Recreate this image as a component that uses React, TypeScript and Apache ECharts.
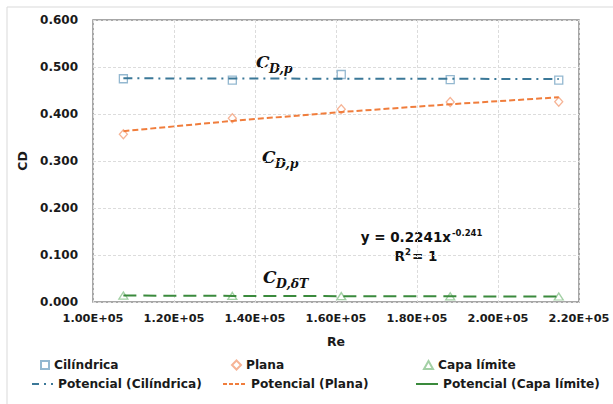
import React, { useEffect, useRef } from "react";
import * as echarts from "echarts";

const reynolds = [107500, 134400, 161300, 188200, 215000];
const cilindrica = [0.475, 0.472, 0.484, 0.473, 0.472];
const plana = [0.357, 0.391, 0.41, 0.4255, 0.426];
const capaLimite = [0.0137, 0.013, 0.0125, 0.012, 0.0116];

const seriesNames = ["Cilíndrica", "Plana", "Capa límite"];
const trendNames = ["Potencial (Cilíndrica)", "Potencial (Plana)", "Potencial (Capa límite)"];
const equationText = "y = 0.2241x";
const equationExp = "-0.241";

// least-squares power fit y = a x^b (Excel "Potencial" trendline)
function powerFit(xs: number[], ys: number[]) {
  const lx = xs.map(Math.log);
  const ly = ys.map(Math.log);
  const n = xs.length;
  const mx = lx.reduce((s, v) => s + v, 0) / n;
  const my = ly.reduce((s, v) => s + v, 0) / n;
  let num = 0;
  let den = 0;
  for (let i = 0; i < n; i++) {
    num += (lx[i] - mx) * (ly[i] - my);
    den += (lx[i] - mx) * (lx[i] - mx);
  }
  const b = num / den;
  const a = Math.exp(my - b * mx);
  return xs.map((x) => [x, a * Math.pow(x, b)]);
}

const FONT = "'DejaVu Sans', sans-serif";
const MATH = "'DejaVu Serif', serif";

function sci(v: number) {
  if (v === 0) return "0.00E+00";
  const e = Math.floor(Math.log10(Math.abs(v)) + 1e-9);
  const m = v / Math.pow(10, e);
  const es = (e < 0 ? "-" : "+") + String(Math.abs(e)).padStart(2, "0");
  return m.toFixed(2) + "E" + es;
}

export default function App() {
  const ref = useRef<HTMLDivElement>(null);
  useEffect(() => {
    if (!ref.current) return;
    const chart = echarts.init(ref.current, null, { renderer: "svg" });
    const blue = "#3b7898";
    const blueM = "#79a6c4";
    const orange = "#f07d3c";
    const orangeM = "#f4a07a";
    const green = "#3a8a3c";
    const greenM = "#8cc48e";
    const legendText = { fontFamily: FONT, fontWeight: "bold", fontSize: 12.2, color: "#1a1a1a" };
    const mkLegend = (name: string, left: number, top: number, w: number, h: number, extra: any = {}) => ({
      data: [name],
      left,
      top,
      padding: 0,
      itemWidth: w,
      itemHeight: h,
      itemGap: 0,
      textStyle: legendText,
      ...extra,
    });
    const scatterStyle = (c: string) => ({ color: "rgba(255,255,255,0)", borderColor: c, borderWidth: 1.3 });
    const hiddenSymbol = { itemStyle: { opacity: 0 } };
    const mathStyle = (text: string, size: number) => ({
      text,
      fontFamily: MATH,
      fontStyle: "italic",
      fontWeight: "bold",
      fontSize: size,
      fill: "#111",
      textVerticalAlign: "bottom",
    });
    chart.setOption({
      animation: false,
      backgroundColor: "#ffffff",
      grid: { left: 93, right: 34, top: 20, bottom: 102, show: true, borderColor: "#8a8a8a", borderWidth: 1.5, outerBoundsMode: "none" },
      xAxis: {
        type: "value",
        min: 100000,
        max: 220000,
        interval: 20000,
        name: "Re",
        nameLocation: "middle",
        nameGap: 33,
        nameTextStyle: { fontFamily: FONT, fontWeight: "bold", fontSize: 12.5, color: "#1a1a1a" },
        axisLine: { show: false },
        axisTick: { show: false },
        axisLabel: { formatter: (v: number) => sci(v), margin: 11, fontFamily: FONT, fontWeight: "bold", fontSize: 11.3, color: "#1a1a1a" },
        splitLine: { show: true, lineStyle: { color: "#dcdcdc", type: [3, 2], width: 1 } },
      },
      yAxis: {
        type: "value",
        min: 0,
        max: 0.6,
        interval: 0.1,
        name: "CD",
        nameLocation: "middle",
        nameGap: 53,
        nameTextStyle: { fontFamily: FONT, fontWeight: "bold", fontSize: 12.5, color: "#1a1a1a" },
        axisLine: { show: false },
        axisTick: { show: false },
        axisLabel: { formatter: (v: number) => v.toFixed(3), margin: 15, fontFamily: FONT, fontWeight: "bold", fontSize: 12, color: "#1a1a1a" },
        splitLine: { show: true, lineStyle: { color: "#dcdcdc", type: [3, 2], width: 1 } },
      },
      legend: [
        mkLegend(seriesNames[0], 40, 359, 8, 8, { icon: "rect" }),
        mkLegend(seriesNames[1], 231, 359, 9, 9, { icon: "diamond" }),
        mkLegend(seriesNames[2], 423, 359, 9, 8, { icon: "triangle" }),
        mkLegend(trendNames[0], 31, 378, 21, 10, { lineStyle: { type: [7, 5, 2, 5], width: 2 }, ...hiddenSymbol }),
        mkLegend(trendNames[1], 222, 378, 23, 10, { lineStyle: { type: [4, 2], width: 2 }, ...hiddenSymbol }),
        mkLegend(trendNames[2], 415, 378, 22, 10, { lineStyle: { type: "solid", width: 2 }, ...hiddenSymbol }),
      ],
      series: [
        {
          name: seriesNames[0],
          type: "scatter",
          symbol: "rect",
          symbolSize: 8,
          itemStyle: scatterStyle(blueM),
          data: reynolds.map((x, i) => [x, cilindrica[i]]),
          z: 2,
        },
        {
          name: seriesNames[1],
          type: "scatter",
          symbol: "diamond",
          symbolSize: [8, 9],
          itemStyle: scatterStyle(orangeM),
          data: reynolds.map((x, i) => [x, plana[i]]),
          z: 2,
        },
        {
          name: seriesNames[2],
          type: "scatter",
          symbol: "triangle",
          symbolSize: [9, 7],
          itemStyle: scatterStyle(greenM),
          data: reynolds.map((x, i) => [x, capaLimite[i]]),
          z: 2,
        },
        {
          name: trendNames[0],
          type: "line",
          symbol: "none",
          showSymbol: false,
          lineStyle: { color: blue, width: 2, type: [9, 5, 2, 5] },
          itemStyle: { color: blue },
          data: powerFit(reynolds, cilindrica),
          z: 3,
        },
        {
          name: trendNames[1],
          type: "line",
          symbol: "none",
          showSymbol: false,
          lineStyle: { color: orange, width: 2, type: [6, 3] },
          itemStyle: { color: orange },
          data: powerFit(reynolds, plana),
          z: 3,
        },
        {
          name: trendNames[2],
          type: "line",
          symbol: "none",
          showSymbol: false,
          lineStyle: { color: green, width: 2, type: [13, 7] },
          itemStyle: { color: green },
          data: powerFit(reynolds, capaLimite),
          z: 3,
        },
      ],
      graphic: [
        { type: "rect", shape: { x: 7, y: 7, width: 640, height: 440 }, style: { fill: "none", stroke: "#d9d9d9", lineWidth: 1 }, silent: true },
        // C_{D,p} (upper)
        { type: "text", x: 256, y: 70, style: mathStyle("C", 17) },
        { type: "text", x: 269, y: 75, style: mathStyle("D,p", 12.5) },
        // C_{D,p} (middle)
        { type: "text", x: 262, y: 165, style: mathStyle("C", 17) },
        { type: "text", x: 275, y: 170, style: mathStyle("D,p", 12.5) },
        // C_{D,δT}
        { type: "text", x: 263, y: 285, style: mathStyle("C", 17) },
        { type: "text", x: 276, y: 290, style: mathStyle("D,δT", 12.5) },
        // equation
        { type: "text", x: 451, y: 244, style: { text: equationText, fontFamily: FONT, fontWeight: "bold", fontSize: 13.5, fill: "#111", textAlign: "right", textVerticalAlign: "bottom" } },
        { type: "text", x: 452, y: 237, style: { text: equationExp, fontFamily: FONT, fontWeight: "bold", fontSize: 8.5, fill: "#111", textAlign: "left", textVerticalAlign: "bottom" } },
        { type: "text", x: 405, y: 263, style: { text: "R", fontFamily: FONT, fontWeight: "bold", fontSize: 13.5, fill: "#111", textAlign: "right", textVerticalAlign: "bottom" } },
        { type: "text", x: 405, y: 256, style: { text: "2", fontFamily: FONT, fontWeight: "bold", fontSize: 8.5, fill: "#111", textAlign: "left", textVerticalAlign: "bottom" } },
        { type: "text", x: 412, y: 263, style: { text: "= 1", fontFamily: FONT, fontWeight: "bold", fontSize: 13.5, fill: "#111", textAlign: "left", textVerticalAlign: "bottom" } },
      ],
    });
    return () => chart.dispose();
  }, []);
  return <div ref={ref} style={{ position: "fixed", left: 0, top: 0, width: 613, height: 404 }} />;
}
